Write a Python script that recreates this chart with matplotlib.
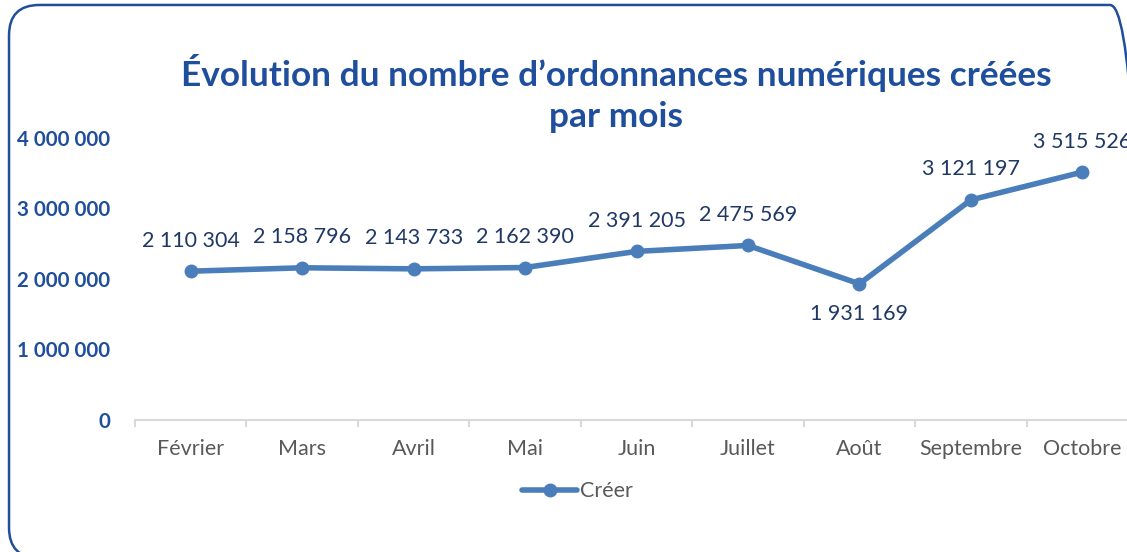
import matplotlib
matplotlib.use("Agg")
import matplotlib.pyplot as plt
from matplotlib.patches import FancyBboxPatch

mois = ["Février", "Mars", "Avril", "Mai", "Juin", "Juillet", "Août", "Septembre", "Octobre"]
creer = [2110304, 2158796, 2143733, 2162390, 2391205, 2475569, 1931169, 3121197, 3515526]
y_ticks = [0, 1000000, 2000000, 3000000, 4000000]

plt.rcParams['font.family'] = ['Lato', 'DejaVu Sans']

bleu = '#4a7ebb'
titre_col = '#1f4e9c'
label_col = '#1f3864'
gris = '#595959'


def fmt(v):
    return f"{v:,}".replace(",", " ")


fig = plt.figure(figsize=(11.27, 5.52), dpi=100)
# cadre arrondi, qui deborde a droite et en bas comme sur l'original
cadre = FancyBboxPatch((0.008, -0.011), 1.004, 1.002, boxstyle="round,pad=0,rounding_size=0.027",
                       transform=fig.transFigure, fill=False, edgecolor='#1f4e9c', linewidth=1.8,
                       mutation_aspect=1127 / 552)
fig.patches.append(cadre)

ax = fig.add_axes([0.1198, 0.2391, 0.89, 0.511])
x = list(range(len(mois)))
ax.plot(x, creer, color=bleu, linewidth=4, marker='o', markersize=9, label='Créer',
        solid_capstyle='round', clip_on=False)
ax.set_xlim(-0.5, len(mois) - 0.5)
ax.set_ylim(0, 4000000)

for i, v in enumerate(creer):
    dy = -22 if mois[i] == "Août" else 22
    ax.annotate(fmt(v), (i, v), xytext=(0, dy), textcoords='offset points', ha='center', va='center',
                fontsize=15.5, color=label_col, annotation_clip=False)

ax.set_yticks(y_ticks)
ax.set_yticklabels([fmt(t) for t in y_ticks], fontsize=14.8, fontweight='bold', color=titre_col)
ax.tick_params(axis='y', length=0, pad=18)
ax.set_xticks(x)
ax.set_xticklabels(mois, fontsize=15.5, color=gris)
ax.set_xticks([i - 0.5 for i in range(len(mois) + 1)], minor=True)
ax.tick_params(axis='x', which='major', length=0, pad=14)
ax.tick_params(axis='x', which='minor', length=5, color='#d9d9d9', width=1.5)
for s in ['top', 'right', 'left']:
    ax.spines[s].set_visible(False)
ax.spines['bottom'].set_color('#d9d9d9')
ax.spines['bottom'].set_linewidth(1.5)

fig.text(0.547, 0.831, "Évolution du nombre d’ordonnances numériques créées\npar mois", ha='center',
         va='center', fontsize=25.4, fontweight='bold', color=titre_col, linespacing=1.35)

fig.legend(loc='center', bbox_to_anchor=(0.512, 0.11), frameon=False, fontsize=15.5,
           labelcolor=gris, handlelength=2.6, handletextpad=0.1)

fig.savefig("out.png", dpi=100)
